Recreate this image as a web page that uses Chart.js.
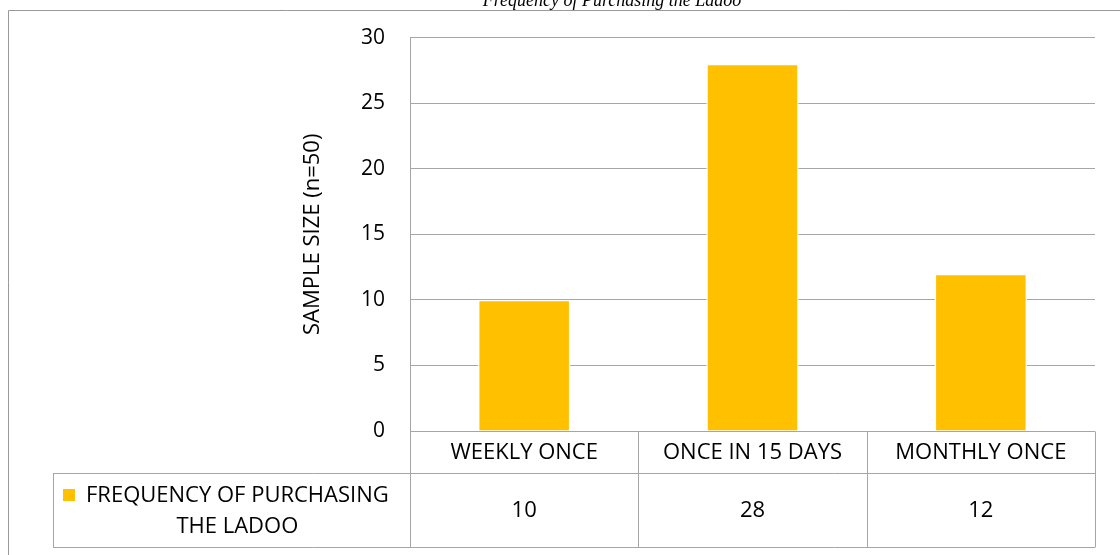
<!DOCTYPE html>
<html>
<head>
<meta charset="utf-8">
<script src="https://cdn.jsdelivr.net/npm/chart.js@4.4.1/dist/chart.umd.min.js"></script>
<style>
  html, body { margin: 0; padding: 0; background: #fff; }
</style>
</head>
<body>
<canvas id="chart" width="1120" height="555"></canvas>
<script>
// chart data
var chartTitle = 'Frequency of Purchasing the Ladoo';
var axisTitle = 'SAMPLE SIZE (n=50)';
var categories = ['WEEKLY ONCE', 'ONCE IN 15 DAYS', 'MONTHLY ONCE'];
var seriesLabel = ['FREQUENCY OF PURCHASING', 'THE LADOO'];
var seriesValues = [10, 28, 12];
var yTicks = [0, 5, 10, 15, 20, 25, 30];

var BAR = '#FFC000';
var GRID = '#a6a6a6';
var FRAME = '#999999';
var FONT = "'Open Sans', sans-serif";
var FONT_SIZE = 22;

function crisp(v) {
    return Math.round(v) + 0.5;
}

function line(ctx, x1, y1, x2, y2) {
    ctx.beginPath();
    ctx.moveTo(x1, y1);
    ctx.lineTo(x2, y2);
    ctx.stroke();
}

// white page, outer frame, titles and the data table under the plot
var tablePlugin = {
    id: 'dataTable',
    beforeDraw: function(chart) {
        var ctx = chart.ctx;
        ctx.save();
        ctx.fillStyle = '#fff';
        ctx.fillRect(0, 0, chart.width, chart.height);
        ctx.restore();
    },
    afterDraw: function(chart) {
        var ctx = chart.ctx;
        var area = chart.chartArea;
        var xs = chart.scales.x;
        var ys = chart.scales.y;
        var n = categories.length;
        var colW = (area.right - area.left) / n;
        var top = ys.getPixelForValue(0);
        var row1 = top + 42;
        var bottom = top + 116;
        var legendLeft = 53;

        ctx.save();

        // outer frame (cut by the page edge on right and bottom)
        ctx.strokeStyle = FRAME;
        ctx.lineWidth = 1;
        line(ctx, 8.5, chart.height, 8.5, 10.5);
        line(ctx, 8.5, 10.5, chart.width, 10.5);

        // chart title, clipped by the top edge
        ctx.fillStyle = '#000';
        ctx.font = 'italic 18px "Liberation Serif", "DejaVu Serif", serif';
        ctx.textAlign = 'center';
        ctx.textBaseline = 'alphabetic';
        ctx.fillText(chartTitle, 612, 6);

        // axis title
        ctx.save();
        ctx.translate(313, (area.top + top) / 2);
        ctx.rotate(-Math.PI / 2);
        ctx.font = FONT_SIZE + 'px ' + FONT;
        ctx.textBaseline = 'middle';
        ctx.fillText(axisTitle, 0, 0);
        ctx.restore();

        // table grid
        ctx.strokeStyle = GRID;
        ctx.lineWidth = 1;
        line(ctx, area.left, crisp(top), area.right, crisp(top));
        line(ctx, legendLeft, crisp(row1), area.right, crisp(row1));
        line(ctx, legendLeft, crisp(bottom), area.right, crisp(bottom));
        line(ctx, crisp(legendLeft), crisp(row1), crisp(legendLeft), crisp(bottom));
        for (var i = 0; i <= n; i++) {
            var cx = crisp(area.left + i * colW);
            line(ctx, cx, crisp(i === 0 ? area.top : top), cx, crisp(bottom));
        }

        // category names and values
        ctx.fillStyle = '#000';
        ctx.font = FONT_SIZE + 'px ' + FONT;
        ctx.textAlign = 'center';
        ctx.textBaseline = 'middle';
        categories.forEach(function(cat, i) {
            var x = xs.getPixelForValue(i);
            ctx.fillText(cat, x, (top + row1) / 2 + 1);
            ctx.fillText(String(seriesValues[i]), x, (row1 + bottom) / 2 + 1);
        });

        // legend key in the first column
        var mid = (row1 + bottom) / 2;
        var w1 = ctx.measureText(seriesLabel[0]).width;
        var key = 12;
        var start = legendLeft + 10;
        var textMid = start + 23 + w1 / 2;
        ctx.fillStyle = BAR;
        ctx.fillRect(start, Math.round(mid - 15.5 - key / 2), key, key);
        ctx.fillStyle = '#000';
        ctx.fillText(seriesLabel[0], textMid, mid - 15.5 + 1);
        ctx.fillText(seriesLabel[1], textMid, mid + 15.5 + 1);

        ctx.restore();
    }
};

var chart = new Chart(document.getElementById('chart'), {
    type: 'bar',
    data: {
        labels: categories,
        datasets: [{
            label: seriesLabel.join(' '),
            data: seriesValues,
            backgroundColor: BAR,
            borderColor: '#ffffff',
            borderWidth: 1.5,
            categoryPercentage: 1,
            barPercentage: 0.405
        }]
    },
    options: {
        responsive: false,
        devicePixelRatio: 1,
        animation: false,
        layout: {
            padding: { left: 0, top: 37, right: 25, bottom: 124 }
        },
        plugins: {
            legend: { display: false },
            title: { display: false },
            tooltip: { enabled: false }
        },
        scales: {
            x: {
                display: false,
                grid: { display: false }
            },
            y: {
                min: 0,
                max: 30,
                afterFit: function(scale) {
                    scale.width = 410;
                },
                afterBuildTicks: function(scale) {
                    scale.ticks = yTicks.map(function(v) { return { value: v }; });
                },
                grid: {
                    color: GRID,
                    lineWidth: 1,
                    drawTicks: false
                },
                border: { display: true, color: GRID, width: 1 },
                ticks: {
                    padding: 25,
                    color: '#000',
                    font: { family: FONT, size: 21 }
                }
            }
        }
    },
    plugins: [tablePlugin]
});
</script>
</body>
</html>
